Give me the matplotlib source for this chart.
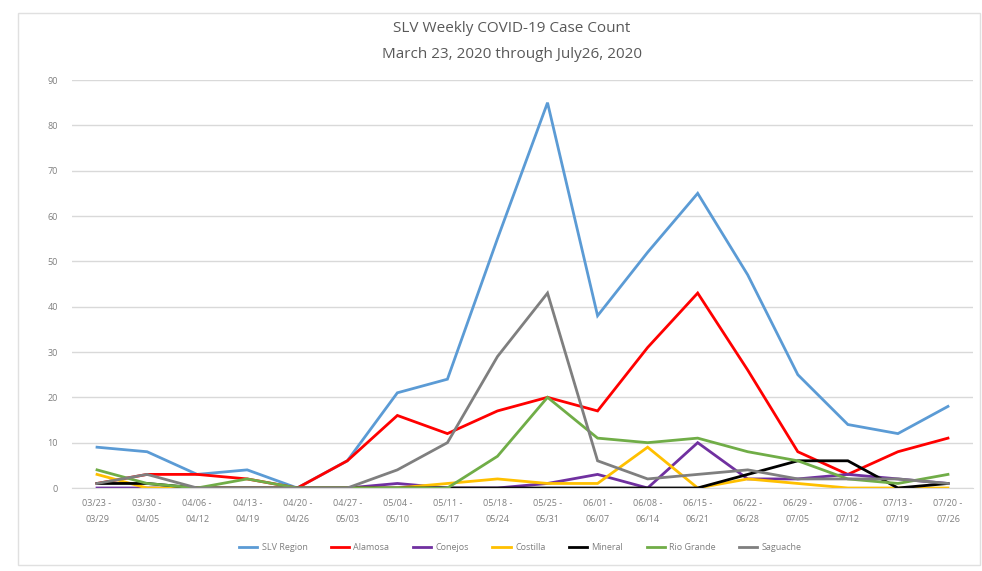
import matplotlib.pyplot as plt
import numpy as np

# week labels (start - end)
weeks = ["03/23 -\n03/29", "03/30 -\n04/05", "04/06 -\n04/12", "04/13 -\n04/19",
         "04/20 -\n04/26", "04/27 -\n05/03", "05/04 -\n05/10", "05/11 -\n05/17",
         "05/18 -\n05/24", "05/25 -\n05/31", "06/01 -\n06/07", "06/08 -\n06/14",
         "06/15 -\n06/21", "06/22 -\n06/28", "06/29 -\n07/05", "07/06 -\n07/12",
         "07/13 -\n07/19", "07/20 -\n07/26"]

slv_region = [9, 8, 3, 4, 0, 6, 21, 24, 55, 85, 38, 52, 65, 47, 25, 14, 12, 18]
alamosa    = [1, 3, 3, 2, 0, 6, 16, 12, 17, 20, 17, 31, 43, 26, 8, 3, 8, 11]
conejos    = [0, 0, 0, 0, 0, 0, 1, 0, 0, 1, 3, 0, 10, 2, 2, 3, 2, 1]
costilla   = [3, 0, 0, 0, 0, 0, 0, 1, 2, 1, 1, 9, 0, 2, 1, 0, 0, 0]
mineral    = [1, 1, 0, 0, 0, 0, 0, 0, 0, 0, 0, 0, 0, 3, 6, 6, 0, 1]
rio_grande = [4, 1, 0, 2, 0, 0, 0, 0, 7, 20, 11, 10, 11, 8, 6, 2, 1, 3]
saguache   = [1, 3, 0, 0, 0, 0, 4, 10, 29, 43, 6, 2, 3, 4, 2, 2, 2, 1]

series = [
    ("SLV Region", slv_region, "#5B9BD5"),
    ("Alamosa", alamosa, "#FF0000"),
    ("Conejos", conejos, "#7030A0"),
    ("Costilla", costilla, "#FFC000"),
    ("Mineral", mineral, "#000000"),
    ("Rio Grande", rio_grande, "#70AD47"),
    ("Saguache", saguache, "#7F7F7F"),
]

plt.rcParams['font.family'] = ['Open Sans', 'DejaVu Sans']

fig = plt.figure(figsize=(9.82, 5.71), dpi=100)
# light chart-area border
fig.patches.append(plt.Rectangle((18 / 982, 6 / 571), 962 / 982, 552 / 571,
                                 transform=fig.transFigure, fill=False,
                                 edgecolor="#E0E0E0", linewidth=1))
ax = fig.add_axes([72 / 982, 1 - 488 / 571, 901 / 982, 408 / 571])

x = np.arange(len(weeks))
for name, vals, col in series:
    ax.plot(x, vals, color=col, linewidth=2.0, label=name, solid_joinstyle="miter")

ax.set_xlim(-0.5, len(weeks) - 0.5)
ax.set_ylim(0, 90)
ax.set_yticks(np.arange(0, 91, 10))
ax.set_xticks(x)
ax.set_xticklabels(weeks, fontsize=6.5, color="#7F7F7F", linespacing=2.0)
ax.tick_params(axis="y", labelsize=6.5, labelcolor="#7F7F7F", length=0, pad=10)
ax.tick_params(axis="x", length=0, pad=8)
ax.grid(axis="y", color="#D9D9D9", linewidth=1)
ax.set_axisbelow(True)
for s in ["top", "right", "left"]:
    ax.spines[s].set_visible(False)
ax.spines["bottom"].set_color("#D9D9D9")

fig.text(0.521, 1 - 28 / 571, "SLV Weekly COVID-19 Case Count", ha="center", va="center",
         fontsize=11, color="#595959")
fig.text(0.521, 1 - 55 / 571, "March 23, 2020 through July26, 2020", ha="center", va="center",
         fontsize=11, color="#595959")

fig.legend(loc="center", bbox_to_anchor=(0.53, 1 - 548 / 571), ncol=7, frameon=False,
           fontsize=6.5, labelcolor="#7F7F7F", handlelength=2.0, columnspacing=2.6,
           handletextpad=0.5)

fig.savefig("out.png", dpi=100)
